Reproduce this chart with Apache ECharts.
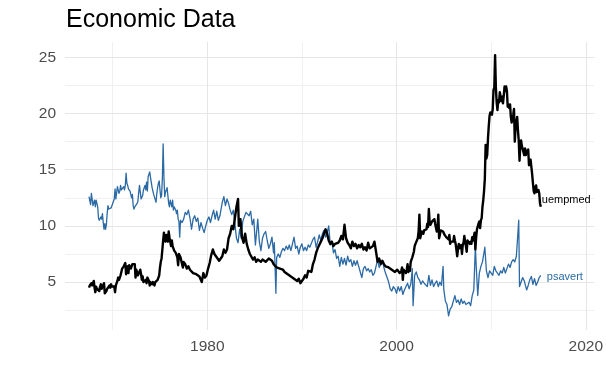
<!DOCTYPE html>
<html>
<head>
<meta charset="utf-8">
<script src="https://cdn.jsdelivr.net/npm/echarts@6/dist/echarts.min.js"></script>
<style>
html,body{margin:0;padding:0;background:#fff;}
#chart{width:606px;height:388px;}
</style>
</head>
<body>
<div id="chart"></div>
<script>
// ---- data ----
const chartTitle = 'Economic Data';
const xTickLabels = [1980, 2000, 2020];
const xMinorBreaks = [1970, 1990, 2010];
const yTickLabels = [5, 10, 15, 20, 25];
const yMinorBreaks = [2.5, 7.5, 12.5, 17.5, 22.5];

const psavertDates = [
'1967-07','1967-08','1967-09','1967-10','1967-11','1967-12',
'1968-01','1968-02','1968-03','1968-04','1968-05','1968-06','1968-07','1968-08','1968-09','1968-10','1968-11','1968-12',
'1969-01','1969-02','1969-03','1969-04','1969-05','1969-06','1969-07','1969-08','1969-09','1969-10','1969-11','1969-12',
'1970-01','1970-02','1970-03','1970-04','1970-05','1970-06','1970-07','1970-08','1970-09','1970-10','1970-11','1970-12',
'1971-01','1971-02','1971-03','1971-04','1971-05','1971-06','1971-07','1971-08','1971-09','1971-10','1971-11','1971-12',
'1972-01','1972-02','1972-03','1972-04','1972-05','1972-06','1972-07','1972-08','1972-09','1972-10','1972-11','1972-12',
'1973-01','1973-02','1973-03','1973-04','1973-05','1973-06','1973-07','1973-08','1973-09','1973-10','1973-11','1973-12',
'1974-01','1974-02','1974-03','1974-04','1974-05','1974-06','1974-07','1974-08','1974-09','1974-10','1974-11','1974-12',
'1975-01','1975-02','1975-03','1975-04','1975-05','1975-06','1975-07','1975-08','1975-09','1975-10','1975-11','1975-12',
'1976-01','1976-02','1976-03','1976-04','1976-05','1976-06','1976-07','1976-08','1976-09','1976-10','1976-11','1976-12',
'1977-01','1977-02','1977-03','1977-05','1977-07','1977-09','1977-11',
'1978-01','1978-03','1978-05','1978-07','1978-09','1978-11',
'1979-01','1979-03','1979-05','1979-07','1979-09','1979-11',
'1980-01','1980-03','1980-05','1980-07','1980-09','1980-11',
'1981-01','1981-03','1981-05','1981-06','1981-08','1981-10','1981-12',
'1982-02','1982-04','1982-06','1982-08','1982-10','1982-12',
'1983-02','1983-04','1983-06','1983-08','1983-10','1983-12',
'1984-02','1984-04','1984-06','1984-08','1984-10','1984-12',
'1985-02','1985-04','1985-05','1985-07','1985-09','1985-11',
'1986-01','1986-03','1986-05','1986-07','1986-09','1986-11',
'1987-01','1987-02','1987-04','1987-05','1987-07','1987-09','1987-11',
'1988-01','1988-03','1988-05','1988-07','1988-09','1988-11',
'1989-01','1989-03','1989-05','1989-07','1989-09','1989-11',
'1990-01','1990-03','1990-05','1990-07','1990-09','1990-11',
'1991-01','1991-03','1991-05','1991-07','1991-09','1991-11',
'1992-01','1992-03','1992-05','1992-07','1992-09','1992-11',
'1993-01','1993-03','1993-05','1993-07','1993-09','1993-11',
'1994-01','1994-03','1994-05','1994-07','1994-09','1994-11',
'1995-01','1995-03','1995-05','1995-07','1995-09','1995-11',
'1996-01','1996-03','1996-05','1996-07','1996-09','1996-11',
'1997-01','1997-03','1997-05','1997-07','1997-09','1997-11',
'1998-01','1998-03','1998-05','1998-07','1998-09','1998-11',
'1999-01','1999-03','1999-05','1999-07','1999-09','1999-11',
'2000-01','2000-03','2000-05','2000-07','2000-09','2000-11',
'2001-01','2001-03','2001-05','2001-07','2001-08','2001-09','2001-10','2001-12',
'2002-02','2002-04','2002-06','2002-08','2002-10','2002-12',
'2003-02','2003-04','2003-06','2003-08','2003-10','2003-12',
'2004-02','2004-04','2004-06','2004-08','2004-10','2004-12',
'2005-01','2005-03','2005-05','2005-07','2005-09','2005-11',
'2006-01','2006-03','2006-05','2006-07','2006-09','2006-11',
'2007-01','2007-03','2007-05','2007-07','2007-09','2007-11',
'2008-01','2008-03','2008-05','2008-06','2008-08','2008-10','2008-12',
'2009-02','2009-05','2009-07','2009-09','2009-11',
'2010-01','2010-03','2010-05','2010-07','2010-09','2010-11',
'2011-01','2011-03','2011-05','2011-07','2011-09','2011-11',
'2012-01','2012-03','2012-05','2012-07','2012-09','2012-11','2012-12',
'2013-01','2013-03','2013-05','2013-07','2013-09','2013-10','2013-12',
'2014-02','2014-04','2014-06','2014-08','2014-10','2014-12',
'2015-02','2015-04'
];
const psavertValues = [
12.6,12.6,11.9,12.9,12.8,11.8,
11.7,12.3,11.7,12.3,12.0,11.7,10.7,10.5,10.6,10.8,10.6,11.1,
10.3,9.7,10.2,9.7,10.1,11.1,11.8,11.5,11.6,11.4,11.6,11.8,
11.8,11.7,12.4,13.3,12.4,12.3,13.5,13.4,12.9,13.1,13.6,13.2,
13.3,13.3,13.5,13.2,13.6,14.7,13.8,13.6,13.3,13.3,13.1,13.0,
12.5,12.8,11.8,11.5,11.7,11.7,11.7,12.0,12.2,13.0,13.6,13.7,
12.4,12.5,12.7,13.2,13.2,13.6,13.2,13.9,13.1,14.4,14.4,14.8,
14.3,14.2,13.4,13.1,12.8,12.8,12.8,12.1,12.9,13.4,13.8,14.0,
13.2,12.5,12.7,14.2,17.3,14.3,12.6,13.0,13.0,13.4,12.7,12.0,
11.7,12.3,12.2,11.7,12.3,11.4,11.7,11.7,11.4,11.1,11.4,10.6,
10.4,9.0,10.5,10.3,10.6,11.2,11.0,
11.4,10.7,9.7,10.6,10.9,10.4,
10.7,9.6,10.3,9.8,9.4,10.0,
10.5,10.8,10.3,10.9,11.4,10.6,
11.3,10.5,10.9,10.8,12.1,12.6,11.8,
12.4,12.0,11.4,11.0,11.4,10.2,
8.9,8.5,9.7,8.9,10.4,10.8,
11.2,11.1,10.9,11.3,10.1,10.6,
8.3,9.8,10.6,8.6,7.8,8.9,
9.3,9.5,8.7,8.0,8.4,9.0,
7.6,8.5,4.0,7.2,7.5,7.2,7.7,
8.0,7.8,8.2,7.9,8.3,7.8,
8.4,9.0,8.0,8.2,7.5,8.1,
8.4,7.8,8.1,7.8,8.3,8.1,
8.1,8.8,9.0,8.1,8.6,9.2,
8.7,9.3,9.6,9.0,9.4,10.0,
8.3,8.6,7.6,7.9,7.1,7.3,
6.4,7.2,6.6,7.1,6.5,7.3,
6.8,7.0,6.4,6.9,6.5,6.9,
6.4,5.9,5.4,6.2,6.4,6.0,
6.2,5.9,6.1,5.6,5.8,6.4,
7.0,6.3,6.2,6.9,6.3,5.8,
5.4,5.0,4.4,4.2,4.6,4.4,
4.0,4.6,4.2,4.6,3.9,4.3,
4.6,4.9,4.4,4.8,5.4,6.2,2.9,5.6,
5.9,5.4,5.2,4.8,5.1,4.9,
5.0,4.6,5.6,4.7,5.2,4.6,
4.9,5.1,4.6,5.0,4.7,6.4,
4.3,3.3,3.0,2.0,2.6,2.8,
2.9,3.8,3.2,3.4,3.0,3.5,
3.1,3.3,3.0,2.9,3.2,2.9,
3.8,4.3,8.2,6.5,3.8,5.8,6.4,
6.8,8.1,6.0,5.4,6.0,
5.8,5.6,6.4,6.0,5.9,5.6,
6.0,5.8,6.3,5.8,6.2,6.6,
6.3,6.8,7.0,6.8,7.3,7.3,10.5,
4.6,5.0,5.4,5.1,5.2,4.3,4.7,
5.2,5.5,4.8,5.3,4.7,5.0,
5.4,5.6
];

const uempmedDates = [
'1967-07','1967-08','1967-09','1967-10','1967-11','1967-12',
'1968-01','1968-02','1968-03','1968-04','1968-05','1968-06','1968-07','1968-08','1968-09','1968-10','1968-11','1968-12',
'1969-01','1969-02','1969-03','1969-04','1969-05','1969-06','1969-07','1969-08','1969-09','1969-10','1969-11','1969-12',
'1970-01','1970-02','1970-03','1970-04','1970-05','1970-06','1970-07','1970-08','1970-09','1970-10','1970-11','1970-12',
'1971-01','1971-02','1971-03','1971-04','1971-05','1971-06','1971-07','1971-08','1971-09','1971-10','1971-11','1971-12',
'1972-01','1972-02','1972-03','1972-04','1972-05','1972-06','1972-07','1972-08','1972-09','1972-10','1972-11','1972-12',
'1973-01','1973-02','1973-03','1973-04','1973-05','1973-06','1973-07','1973-08','1973-09','1973-10','1973-11','1973-12',
'1974-01','1974-02','1974-03','1974-04','1974-05','1974-06','1974-07','1974-08','1974-09','1974-10','1974-11','1974-12',
'1975-01','1975-02','1975-03','1975-04','1975-05','1975-06','1975-07','1975-08','1975-09','1975-10','1975-11','1975-12',
'1976-01','1976-02','1976-03','1976-04','1976-05','1976-06','1976-07','1976-08','1976-09','1976-10','1976-11','1976-12',
'1977-01','1977-03','1977-05','1977-06','1977-07','1977-09','1977-11',
'1978-01','1978-03','1978-05','1978-07','1978-09','1978-11',
'1979-01','1979-03','1979-05','1979-06','1979-08','1979-10','1979-12',
'1980-02','1980-04','1980-06','1980-08','1980-10','1980-12',
'1981-02','1981-04','1981-06','1981-08','1981-10','1981-12',
'1982-02','1982-04','1982-06','1982-08','1982-10','1982-12',
'1983-02','1983-04','1983-05','1983-07','1983-09','1983-11',
'1984-01','1984-03','1984-05','1984-07','1984-09','1984-11',
'1985-01','1985-03','1985-05','1985-07','1985-09','1985-11',
'1986-01','1986-03','1986-05','1986-07','1986-09','1986-11',
'1987-01','1987-03','1987-05','1987-07','1987-09','1987-11',
'1988-01','1988-03','1988-05','1988-07','1988-09','1988-11',
'1989-01','1989-03','1989-05','1989-07','1989-09','1989-11',
'1990-01','1990-03','1990-05','1990-07','1990-09','1990-11',
'1991-01','1991-03','1991-05','1991-07','1991-09','1991-11',
'1992-01','1992-03','1992-05','1992-07','1992-09','1992-11',
'1993-01','1993-03','1993-05','1993-07','1993-09','1993-11',
'1994-01','1994-03','1994-05','1994-07','1994-09','1994-11',
'1995-01','1995-03','1995-05','1995-07','1995-09','1995-11',
'1996-01','1996-03','1996-05','1996-07','1996-09','1996-11',
'1997-01','1997-03','1997-05','1997-07','1997-09','1997-11',
'1998-01','1998-03','1998-05','1998-07','1998-09','1998-11',
'1999-01','1999-03','1999-05','1999-07','1999-09','1999-11',
'2000-01','2000-02','2000-03','2000-04','2000-05','2000-06','2000-07','2000-08','2000-09','2000-10','2000-11','2000-12',
'2001-01','2001-02','2001-03','2001-04','2001-05','2001-06','2001-07','2001-08','2001-09','2001-10','2001-11','2001-12',
'2002-01','2002-02','2002-03','2002-04','2002-05','2002-06','2002-07','2002-08','2002-09','2002-10','2002-11','2002-12',
'2003-01','2003-02','2003-03','2003-04','2003-05','2003-06','2003-07','2003-08','2003-09','2003-10','2003-11','2003-12',
'2004-01','2004-02','2004-03','2004-04','2004-05','2004-06','2004-07','2004-08','2004-09','2004-10','2004-11','2004-12',
'2005-01','2005-02','2005-03','2005-04','2005-05','2005-06','2005-07','2005-08','2005-09','2005-10','2005-11','2005-12',
'2006-01','2006-02','2006-03','2006-04','2006-05','2006-06','2006-07','2006-08','2006-09','2006-10','2006-11','2006-12',
'2007-01','2007-02','2007-03','2007-04','2007-05','2007-06','2007-07','2007-08','2007-09','2007-10','2007-11','2007-12',
'2008-01','2008-02','2008-03','2008-04','2008-05','2008-06','2008-07','2008-08','2008-09','2008-10','2008-11','2008-12',
'2009-01','2009-02','2009-03','2009-04','2009-05','2009-06','2009-07','2009-08','2009-09','2009-10','2009-11','2009-12',
'2010-01','2010-02','2010-03','2010-04','2010-05','2010-06','2010-07','2010-08','2010-09','2010-10','2010-11','2010-12',
'2011-01','2011-02','2011-03','2011-04','2011-05','2011-06','2011-07','2011-08','2011-09','2011-10','2011-11','2011-12',
'2012-01','2012-02','2012-03','2012-04','2012-05','2012-06','2012-07','2012-08','2012-09','2012-10','2012-11','2012-12',
'2013-01','2013-02','2013-03','2013-04','2013-05','2013-06','2013-07','2013-08','2013-09','2013-10','2013-11','2013-12',
'2014-01','2014-02','2014-03','2014-04','2014-05','2014-06','2014-07','2014-08','2014-09','2014-10','2014-11','2014-12',
'2015-01','2015-02','2015-03','2015-04'
];
const uempmedValues = [
4.5,4.7,4.6,4.9,4.7,4.8,
5.1,4.5,4.1,4.6,4.4,4.4,4.5,4.2,4.6,4.8,4.4,4.4,
4.4,4.9,4.0,4.0,4.2,4.4,4.4,4.4,4.7,4.5,4.8,4.6,
4.6,4.5,4.6,4.1,4.7,4.9,5.1,5.4,5.2,5.2,5.6,5.9,
6.2,6.3,6.4,6.5,6.7,5.7,6.2,6.4,5.8,6.5,6.4,6.2,
6.2,6.6,6.6,6.7,6.6,5.4,6.1,6.0,5.6,5.7,5.7,6.1,
5.7,5.2,5.5,5.0,4.9,5.0,5.2,4.9,5.4,5.5,5.1,4.7,
5.0,5.1,4.8,5.0,5.1,4.7,5.0,5.1,5.1,5.2,5.2,5.6,
6.3,6.8,7.1,7.2,8.7,9.4,8.8,8.6,9.2,9.2,8.6,9.5,
9.0,9.0,8.2,8.7,8.2,8.3,7.8,7.7,7.6,7.5,7.2,6.5,
7.5,7.2,6.6,6.3,6.8,6.6,6.2,
6.4,6.1,6.0,5.8,5.9,5.7,
5.8,5.5,5.6,5.0,5.8,5.4,5.6,
6.2,6.7,7.4,7.9,7.5,7.3,
7.3,6.9,7.1,7.3,7.9,7.6,
7.9,8.9,9.3,10.0,9.7,10.7,
11.7,12.4,10.0,10.6,9.0,8.5,
9.3,8.4,7.9,7.5,7.6,7.0,
7.2,6.8,7.0,6.9,6.8,7.0,
7.0,6.8,6.9,7.1,7.2,6.9,
6.6,6.5,6.3,6.4,6.2,6.3,
6.1,5.9,6.0,5.7,5.8,5.5,
5.6,5.3,5.4,5.1,5.3,4.9,
5.0,5.3,5.6,5.4,6.0,6.1,
5.9,6.6,7.0,7.6,8.0,8.3,
8.6,8.9,9.0,9.7,9.3,8.7,
8.4,8.6,8.2,8.4,8.3,8.5,
8.7,9.1,8.8,10.1,8.9,8.5,
8.3,8.0,8.6,8.2,8.4,8.0,
8.3,8.1,8.4,7.9,8.1,7.8,
8.5,8.0,7.9,8.2,8.6,7.7,
6.8,7.1,6.6,6.9,6.6,6.4,
6.5,6.3,6.4,6.1,6.2,5.9,
5.8,6.1,6.0,6.1,5.8,5.7,6.0,6.3,5.2,6.1,6.1,6.0,
5.8,6.1,6.6,5.9,6.3,6.0,6.8,6.9,7.2,7.3,7.7,8.2,
8.4,8.3,8.4,8.9,9.5,11.0,8.9,9.0,9.5,9.6,9.3,9.6,
9.6,9.5,9.7,10.2,9.9,11.5,10.3,10.1,10.2,10.4,10.3,10.4,
10.6,10.2,10.2,9.5,9.9,11.0,8.9,9.2,9.6,9.5,9.7,9.5,
9.4,9.2,9.3,9.0,9.1,9.0,8.8,9.2,8.4,8.6,8.5,8.7,
8.6,9.1,8.7,8.4,8.5,7.3,8.0,8.4,8.0,7.9,8.3,7.5,
8.3,8.5,9.1,8.6,8.2,7.7,8.7,8.8,8.7,8.4,8.6,8.4,
9.0,8.7,8.7,9.4,7.9,9.0,9.7,9.7,10.2,10.4,9.8,10.5,
10.7,11.7,12.3,13.1,14.2,17.2,16.0,16.3,17.8,18.9,19.8,20.1,
20.0,19.9,20.4,22.1,22.3,25.2,22.3,21.0,20.3,21.2,21.0,21.9,
21.5,21.1,21.5,20.9,21.6,22.4,22.0,22.4,22.0,20.6,20.8,20.5,
20.8,19.7,19.2,19.1,19.9,20.4,17.5,18.8,18.8,19.7,18.5,17.6,
15.8,17.2,17.6,17.1,17.1,17.0,16.3,16.9,16.3,16.6,16.5,16.8,
15.4,15.4,15.9,15.8,14.6,13.8,13.1,12.9,13.4,13.6,13.0,12.9,
13.2,12.9,12.0,11.7
];

// ---- build ----
function toYear(d) {
  const p = d.split('-');
  return +p[0] + (+p[1] - 1) / 12;
}
function pairs(dates, vals) {
  return dates.map((d, i) => [toYear(d), vals[i]]);
}

const FONT = '"Liberation Sans", Arial, Helvetica, sans-serif';
const majorStyle = { color: '#e6e6e6', width: 1, type: 'solid' };
const minorStyle = { color: '#f0f0f0', width: 1, type: 'solid' };

const gridLines = []
  .concat(yMinorBreaks.map(v => ({ yAxis: v, lineStyle: minorStyle })))
  .concat(xMinorBreaks.map(v => ({ xAxis: v, lineStyle: minorStyle })))
  .concat(yTickLabels.map(v => ({ yAxis: v, lineStyle: majorStyle })))
  .concat(xTickLabels.map(v => ({ xAxis: v, lineStyle: majorStyle })));

const chart = echarts.init(document.getElementById('chart'), null, { renderer: 'canvas' });
chart.setOption({
  animation: false,
  backgroundColor: '#ffffff',
  title: {
    text: chartTitle,
    left: 66,
    top: 8,
    padding: 0,
    textStyle: { fontFamily: FONT, fontSize: 25, fontWeight: 'normal', color: '#000000' }
  },
  grid: { left: 65, right: 11, top: 42, bottom: 58, containLabel: false },
  xAxis: {
    type: 'value',
    min: 1964.96,
    max: 2020.9,
    axisLine: { show: false },
    axisTick: { show: false },
    splitLine: { show: false },
    axisLabel: {
      customValues: xTickLabels,
      color: '#4d4d4d',
      fontFamily: FONT,
      fontSize: 15.5,
      margin: 9,
      formatter: v => (xTickLabels.indexOf(Math.round(v)) >= 0 && Math.abs(v - Math.round(v)) < 1e-6) ? String(Math.round(v)) : ''
    }
  },
  yAxis: {
    type: 'value',
    min: 0.735,
    max: 26.365,
    axisLine: { show: false },
    axisTick: { show: false },
    splitLine: { show: false },
    axisLabel: {
      customValues: yTickLabels,
      color: '#4d4d4d',
      fontFamily: FONT,
      fontSize: 15.5,
      margin: 9,
      formatter: v => (yTickLabels.indexOf(v) >= 0) ? String(v) : ''
    }
  },
  series: [
    {
      name: 'grid',
      type: 'line',
      data: [],
      z: 0,
      silent: true,
      symbol: 'none',
      markLine: {
        z: 0,
        silent: true,
        symbol: ['none', 'none'],
        label: { show: false },
        animation: false,
        data: gridLines
      }
    },
    {
      name: 'psavert',
      type: 'line',
      z: 3,
      data: pairs(psavertDates, psavertValues),
      symbol: 'none',
      showSymbol: false,
      lineStyle: { color: '#2b6aa5', width: 1.3, join: 'round' },
      itemStyle: { color: '#2b6aa5' },
      emphasis: { disabled: true },
      endLabel: {
        show: true,
        formatter: 'psavert',
        color: '#2b6aa5',
        fontFamily: FONT,
        fontSize: 11,
        distance: 6,
        offset: [0, 2]
      }
    },
    {
      name: 'uempmed',
      type: 'line',
      z: 4,
      data: pairs(uempmedDates, uempmedValues),
      symbol: 'none',
      showSymbol: false,
      lineStyle: { color: '#000000', width: 2.4, join: 'round' },
      itemStyle: { color: '#000000' },
      emphasis: { disabled: true },
      endLabel: {
        show: true,
        formatter: 'uempmed',
        color: '#000000',
        fontFamily: FONT,
        fontSize: 11,
        distance: 1,
        offset: [0, -7]
      }
    }
  ]
});
</script>
</body>
</html>
